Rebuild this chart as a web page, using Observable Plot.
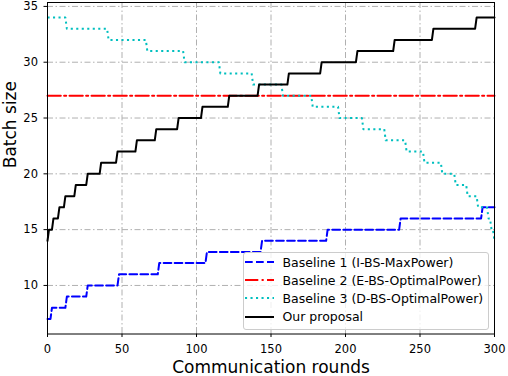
<!DOCTYPE html>
<html>
<head>
<meta charset="utf-8">
<script src="https://cdn.jsdelivr.net/npm/d3@7"></script>
<script src="https://cdn.jsdelivr.net/npm/@observablehq/plot@0.6"></script>
<style>
  html, body { margin: 0; padding: 0; background: #fff; }
  #wrap { position: relative; width: 508px; height: 376px; font-family: "DejaVu Sans", sans-serif; }
  #legend { position: absolute; left: 242.5px; top: 251.5px; width: 246px; height: 78px; box-sizing: border-box;
            border: 1px solid #cccccc; border-radius: 3px; background: rgba(255,255,255,0.8); }
  .row { position: absolute; left: 0; height: 18px; display: flex; align-items: center; }
  .row svg { display: block; margin-left: 1px; }
  .row span { font-size: 12.5px; color: #000; margin-left: 9px; white-space: nowrap; }
</style>
</head>
<body>
<div id="wrap"></div>
<script>
// ---- data ----
const xTicks = [0, 50, 100, 150, 200, 250, 300];
const yTicks = [10, 15, 20, 25, 30, 35];

// Baseline 1 (I-BS-MaxPower): rounds at which each new batch size is reached
const b1Rounds = [0, 3, 13, 27, 48, 75, 107, 144, 188, 237, 292];
const b1Batch  = [7, 8, 9, 10, 11, 12, 13, 14, 15, 16, 17];

// Baseline 2 (E-BS-OptimalPower): constant
const b2Rounds = [0, 300];
const b2Batch  = [27, 27];

// Baseline 3 (D-BS-OptimalPower)
const b3Rounds = [0, 13, 41, 67, 92, 116, 138, 158, 178, 196, 212, 227, 241, 253, 265, 274, 282, 289, 296, 298, 300];
const b3Batch  = [34, 33, 32, 31, 30, 29, 28, 27, 26, 25, 24, 23, 22, 21, 20, 19, 18, 17, 16, 15, 14];

// Our proposal
const oursRounds = [0, 1, 4, 8, 12, 19, 27, 36, 47, 60, 73, 88, 104, 122, 142, 162, 184, 208, 233, 259, 288];
const oursBatch  = [14, 15, 16, 17, 18, 19, 20, 21, 22, 23, 24, 25, 26, 27, 28, 29, 30, 31, 32, 33, 34];

const seriesNames = [
  "Baseline 1 (I-BS-MaxPower)",
  "Baseline 2 (E-BS-OptimalPower)",
  "Baseline 3 (D-BS-OptimalPower)",
  "Our proposal"
];

// per-round step series: value holds until one round before the change
function steps(rounds, batch, end) {
  const pts = [{x: rounds[0], y: batch[0]}];
  for (let i = 1; i < rounds.length; i++) {
    pts.push({x: rounds[i] - 1, y: batch[i - 1]});
    pts.push({x: rounds[i], y: batch[i]});
  }
  if (rounds[rounds.length - 1] < end) pts.push({x: end, y: batch[batch.length - 1]});
  return pts;
}
const b1 = steps(b1Rounds, b1Batch, 300);
const b2 = b2Rounds.map((x, i) => ({x, y: b2Batch[i]}));
const b3 = steps(b3Rounds, b3Batch, 300);
const ours = steps(oursRounds, oursBatch, 300);

const styles = [
  {stroke: "#0000ff", strokeDasharray: "7.7,3.3"},
  {stroke: "#ff0000", strokeDasharray: "13.3,3.3,2.1,3.3"},
  {stroke: "#00bfbf", strokeDasharray: "2.1,3.4"},
  {stroke: "#000000", strokeDasharray: null}
];

const gridStyle = {stroke: "#b0b0b0", strokeOpacity: 1, strokeWidth: 1, strokeDasharray: "6,2.5,1.5,2.5"};

const chart = Plot.plot({
  width: 508,
  height: 376,
  marginLeft: 47,
  marginRight: 14,
  marginTop: 2,
  marginBottom: 42.5,
  style: {fontFamily: "DejaVu Sans", color: "#000", background: "#fff", overflow: "visible"},
  x: {domain: [0, 300]},
  y: {domain: [5.65, 35.35]},
  marks: [
    Plot.gridX(xTicks, gridStyle),
    Plot.gridY(yTicks, gridStyle),
    Plot.line(b1, {x: "x", y: "y", strokeWidth: 2, ...styles[0]}),
    Plot.line(b2, {x: "x", y: "y", strokeWidth: 2, ...styles[1]}),
    Plot.line(b3, {x: "x", y: "y", strokeWidth: 2, strokeLinecap: "butt", ...styles[2]}),
    Plot.line(ours, {x: "x", y: "y", strokeWidth: 2, ...styles[3]}),
    Plot.axisX(xTicks, {tickSize: 3.5, tickPadding: 7, fontSize: 11.5, label: null, stroke: "#000"}),
    Plot.axisY(yTicks, {tickSize: 3.5, tickPadding: 6, fontSize: 11.5, label: null, stroke: "#000"}),
    Plot.frame({stroke: "#000", strokeWidth: 1}),
    Plot.text(["Communication rounds"], {text: d => d, frameAnchor: "bottom", dy: 33.8, fontSize: 17, lineAnchor: "middle", fill: "#000"}),
    Plot.text(["Batch size"], {text: d => d, frameAnchor: "left", dx: -37.3, rotate: -90, fontSize: 17, lineAnchor: "middle", fill: "#000"})
  ]
});

const wrap = document.getElementById("wrap");
wrap.appendChild(chart);

// legend (inside the axes, lower right)
const legend = document.createElement("div");
legend.id = "legend";
const rowTops = [0.5, 18.5, 36.5, 55];
seriesNames.forEach((name, i) => {
  const row = document.createElement("div");
  row.className = "row";
  row.style.top = rowTops[i] + "px";
  const s = styles[i];
  const dash = s.strokeDasharray ? ` stroke-dasharray="${s.strokeDasharray}"` : "";
  row.innerHTML = `<svg width="29" height="18"><line x1="0" y1="9" x2="29" y2="9" stroke="${s.stroke}" stroke-width="2"${dash}/></svg><span>${name}</span>`;
  legend.appendChild(row);
});
wrap.appendChild(legend);
</script>
</body>
</html>
